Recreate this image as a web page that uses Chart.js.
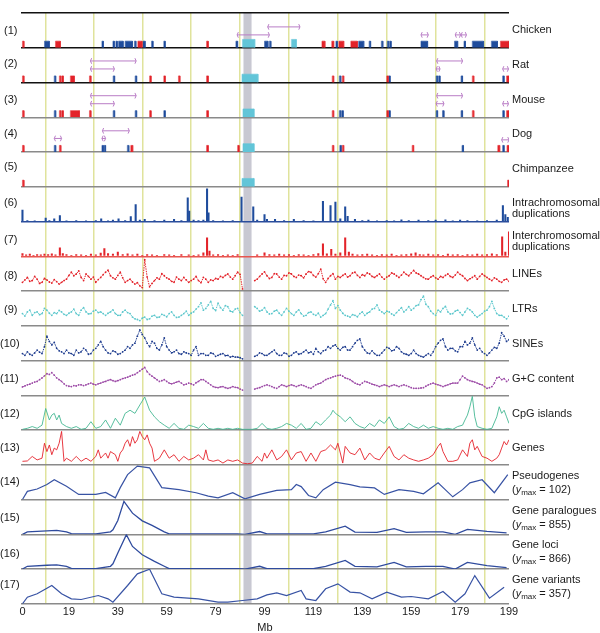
<!DOCTYPE html>
<html>
<head>
<meta charset="utf-8">
<script src="https://cdn.jsdelivr.net/npm/chart.js@4.4.1/dist/chart.umd.min.js"></script>
<style>
body { margin: 0; background: #fff; }
#wrap { position: relative; width: 600px; height: 633px; font-family: "Liberation Sans", Arial, sans-serif; font-size: 11px; color: #1a1a1a; }
#c { position: absolute; left: 0; top: 0; }
.n { position: absolute; left: 0; width: 17.5px; text-align: right; line-height: 13px; white-space: nowrap; }
.l { position: absolute; left: 512px; line-height: 13px; white-space: nowrap; }
.l sub { font-size: 8px; line-height: 0; vertical-align: -2px; }
</style>
</head>
<body>
<div id="wrap">
<canvas id="c" width="600" height="633"></canvas>
<div class="n" style="top:24px">(1)</div>
<div class="n" style="top:57px">(2)</div>
<div class="n" style="top:92.5px">(3)</div>
<div class="n" style="top:127px">(4)</div>
<div class="n" style="top:159.5px">(5)</div>
<div class="n" style="top:196px">(6)</div>
<div class="n" style="top:232.5px">(7)</div>
<div class="n" style="top:268.5px">(8)</div>
<div class="n" style="top:303px">(9)</div>
<div class="n" style="top:337px">(10)</div>
<div class="n" style="top:372px">(11)</div>
<div class="n" style="top:407px">(12)</div>
<div class="n" style="top:441px">(13)</div>
<div class="n" style="top:475px">(14)</div>
<div class="n" style="top:510.5px">(15)</div>
<div class="n" style="top:547px">(16)</div>
<div class="n" style="top:578px">(17)</div>

<div class="l" style="top:23px">Chicken</div>
<div class="l" style="top:58px">Rat</div>
<div class="l" style="top:92.5px">Mouse</div>
<div class="l" style="top:127px">Dog</div>
<div class="l" style="top:161.5px">Chimpanzee</div>
<div class="l" style="top:197px;line-height:10.5px">Intrachromosomal<br>duplications</div>
<div class="l" style="top:230px;line-height:11px">Interchromosomal<br>duplications</div>
<div class="l" style="top:267px">LINEs</div>
<div class="l" style="top:302px">LTRs</div>
<div class="l" style="top:336.5px">SINEs</div>
<div class="l" style="top:371.5px">G+C content</div>
<div class="l" style="top:406.5px">CpG islands</div>
<div class="l" style="top:441px">Genes</div>
<div class="l" style="top:467.5px;line-height:14px">Pseudogenes<br>(<i>y</i><sub>max</sub> = 102)</div>
<div class="l" style="top:503px;line-height:14px">Gene paralogues<br>(<i>y</i><sub>max</sub> = 855)</div>
<div class="l" style="top:538px;line-height:13.5px">Gene loci<br>(<i>y</i><sub>max</sub> = 866)</div>
<div class="l" style="top:573px;line-height:13.5px">Gene variants<br>(<i>y</i><sub>max</sub> = 357)</div>
</div>

<script>
// ---- data (Mb along the chromosome) ----
const xTicks = [0, 19, 39, 59, 79, 99, 119, 139, 159, 179, 199];
const centromere = [90.4, 93.7];

// conserved segments: [start Mb, end Mb, kind]  r = red, b = blue, c = cyan
const chickenMarks = [
  [0,0.6,'r'],[9,11,'b'],[13.5,15.5,'r'],[32.5,33.1,'b'],[37,37.6,'b'],[38.2,38.8,'b'],[39.3,41.2,'b'],
  [42,45,'b'],[45.8,46.4,'b'],[47.2,48.9,'r'],[49.3,50.2,'b'],[52.8,53.4,'b'],[57.8,58.4,'b'],[75.3,76,'r'],
  [87.3,88,'b'],[90,95,'c'],[99,100.4,'b'],[101,101.6,'b'],[110,112,'c'],[122.5,123.7,'r'],[126.5,127.3,'r'],
  [128.2,128.8,'b'],[129.4,131.4,'r'],[134.3,137,'r'],[137.5,139.6,'b'],[141.8,142.4,'b'],[146.8,147.4,'b'],
  [149.2,149.8,'b'],[150.2,150.8,'b'],[163,165.7,'b'],[176.7,178,'b'],[180.6,181.2,'b'],[184,188.6,'b'],
  [191.8,194.3,'b'],[195.5,199,'r']
];
const ratMarks = [
  [0,0.6,'r'],[13,13.6,'b'],[15.1,15.7,'r'],[16.1,16.7,'r'],[19.6,21.2,'r'],[27.4,28,'r'],[37.1,37.7,'b'],
  [46.1,46.7,'b'],[52,52.6,'r'],[57.8,58.4,'r'],[63.8,64.4,'r'],[75.3,76,'r'],[89.8,96.3,'c'],[126.7,127.3,'r'],
  [129.6,130.2,'b'],[130.8,131.4,'r'],[149,149.6,'r'],[149.8,150.4,'b'],[169.2,169.8,'b'],[170.2,170.8,'b'],
  [179.4,180,'b'],[184,184.6,'r'],[196.4,197,'b'],[198,199,'r']
];
const mouseMarks = [
  [0,0.6,'r'],[13,13.6,'b'],[15.1,15.7,'r'],[16.1,16.7,'r'],[19.6,23.3,'r'],[27.4,28,'r'],[37.1,37.7,'b'],
  [46.1,46.7,'b'],[52,52.6,'r'],[57.8,58.4,'b'],[75.3,76,'r'],[90.2,94.7,'c'],[126.7,127.3,'r'],[129.6,130.2,'b'],
  [130.6,131.2,'b'],[149,149.6,'r'],[149.8,150.4,'b'],[169.2,169.8,'b'],[171.8,172.4,'b'],[179.4,180,'b'],
  [184,184.6,'r'],[196.4,197,'b'],[198,199,'r']
];
const dogMarks = [
  [0,0.6,'r'],[13,13.6,'b'],[15.1,15.7,'r'],[32.5,33.1,'b'],[33.4,34,'b'],[42.9,43.5,'b'],[44.3,45.1,'r'],
  [75.3,76,'r'],[88,88.6,'r'],[90.2,94.7,'c'],[126.7,127.3,'r'],[129.8,130.4,'b'],[130.8,131.4,'r'],
  [159.4,160,'r'],[179.8,180.4,'b'],[194.4,195.2,'r'],[196.4,197,'b'],[198.2,199,'r']
];
const chimpMarks = [[0,0.6,'r'],[89.8,94.7,'c'],[198.4,199,'r']];

// rearrangement brackets: [start Mb, end Mb, level]
const chickenBrackets = [[87.8,101,0.37],[100.3,113.5,0.6],[163,166,0.37],[177,179.2,0.37],[179.4,181.6,0.37]];
const ratBrackets = [[27.8,46.5,0.62],[27.8,37.6,0.39],[169.4,180,0.62],[169.2,170.8,0.39],[196.4,198.8,0.39]];
const mouseBrackets = [[27.8,46.5,0.62],[27.8,37.6,0.39],[169.4,180,0.62],[169.2,172.4,0.39],[196.4,198.8,0.39]];
const dogBrackets = [[13,16,0.39],[32.7,43.7,0.61],[32.5,34,0.39],[196,199,0.35]];

// segmental duplications: [Mb, relative height]
const intraDup = [
  [0,0.33],[2,0.03],[5,0.02],[9.5,0.1],[11,0.03],[13,0.08],[15.3,0.17],[18,0.02],[22,0.03],[26,0.02],[30,0.03],
  [32.2,0.08],[35,0.02],[37,0.04],[39.3,0.08],[42,0.03],[44.3,0.14],[46.3,0.49],[48,0.04],[50,0.06],[54,0.03],
  [58,0.04],[62,0.06],[65,0.03],[67.6,0.68],[68.2,0.3],[70,0.04],[72,0.03],[74,0.04],[75.5,0.94],[76.1,0.25],
  [78,0.03],[82,0.02],[86,0.03],[89.6,0.7],[94.4,0.42],[96,0.04],[99,0.2],[100,0.06],[103.3,0.06],[107,0.03],
  [111,0.06],[115,0.03],[119,0.02],[122.9,0.58],[126,0.46],[128,0.56],[130,0.08],[132,0.42],[133,0.15],
  [136,0.06],[139,0.03],[141.5,0.04],[145,0.02],[149,0.03],[152,0.02],[155,0.05],[158,0.03],[162,0.04],
  [166,0.03],[169,0.04],[173,0.05],[176,0.02],[179,0.04],[182,0.03],[186,0.02],[190,0.03],[194,0.04],
  [196.5,0.46],[197.5,0.2],[198.5,0.12]
];
const interDup = [
  [0,0.08],[1.5,0.04],[3,0.06],[4.5,0.03],[6,0.05],[7.5,0.04],[9,0.06],[10.5,0.05],[12,0.07],[13.5,0.04],
  [15.3,0.24],[16.5,0.08],[18,0.05],[20,0.03],[22,0.05],[24,0.04],[26,0.03],[28,0.06],[30,0.04],[32,0.09],
  [33.5,0.22],[35,0.08],[37,0.06],[39,0.12],[41,0.05],[43,0.07],[45,0.04],[47,0.06],[49,0.03],[51,0.05],
  [53,0.04],[55,0.03],[58,0.05],[60,0.04],[62,0.03],[65,0.05],[68,0.04],[70,0.03],[72,0.04],[74,0.1],
  [75.5,0.53],[76.5,0.15],[78,0.04],[80,0.05],[82,0.03],[84,0.04],[86,0.03],[88,0.05],[96,0.04],[99,0.1],
  [101,0.05],[103,0.04],[105,0.06],[107,0.04],[109,0.05],[111,0.03],[113,0.05],[115,0.04],[117,0.03],
  [119,0.05],[121,0.08],[122.9,0.36],[124.5,0.07],[126.3,0.2],[128,0.06],[130,0.1],[132,0.53],[133.5,0.12],
  [135,0.06],[137,0.04],[139,0.05],[141,0.06],[143,0.04],[145,0.03],[147,0.05],[149,0.04],[151,0.06],
  [153,0.03],[155,0.04],[157,0.05],[159,0.07],[160.8,0.1],[162.5,0.05],[164,0.04],[166,0.06],[168,0.04],
  [170,0.05],[172,0.03],[174,0.06],[176,0.04],[178,0.05],[180,0.03],[182,0.05],[184,0.04],[186,0.06],
  [188,0.04],[190,0.05],[192,0.07],[194,0.05],[196.2,0.56],[197.5,0.12],[199,0.7]
];

// repeat densities in 1 Mb windows (relative)
const binMb = [
  0,1,2,3,4,5,6,7,8,9,10,11,12,13,14,15,16,17,18,19,
  20,21,22,23,24,25,26,27,28,29,30,31,32,33,34,35,36,37,38,39,
  40,41,42,43,44,45,46,47,48,49,50,51,52,53,54,55,56,57,58,59,
  60,61,62,63,64,65,66,67,68,69,70,71,72,73,74,75,76,77,78,79,
  80,81,82,83,84,85,86,87,88,89,90,91,92,93,94,95,96,97,98,99,
  100,101,102,103,104,105,106,107,108,109,110,111,112,113,114,115,116,117,118,119,
  120,121,122,123,124,125,126,127,128,129,130,131,132,133,134,135,136,137,138,139,
  140,141,142,143,144,145,146,147,148,149,150,151,152,153,154,155,156,157,158,159,
  160,161,162,163,164,165,166,167,168,169,170,171,172,173,174,175,176,177,178,179,
  180,181,182,183,184,185,186,187,188,189,190,191,192,193,194,195,196,197,198,199
];
const lines = [
  0.25,0.32,0.39,0.28,0.30,0.42,0.34,0.22,0.25,0.36,0.32,0.26,0.23,0.33,0.27,0.20,0.25,0.30,0.34,0.45,
  0.54,0.44,0.49,0.58,0.39,0.30,0.49,0.42,0.34,0.40,0.25,0.33,0.39,0.47,0.54,0.60,0.44,0.38,0.34,0.45,
  0.54,0.38,0.25,0.30,0.34,0.26,0.20,0.24,0.15,0.10,0.90,0.40,0.12,0.22,0.30,0.38,0.34,0.50,0.44,0.38,
  0.34,0.28,0.25,0.40,0.34,0.30,0.39,0.32,0.25,0.30,0.34,0.42,0.30,0.24,0.39,0.34,0.25,0.32,0.30,0.36,
  0.34,0.42,0.39,0.45,0.49,0.40,0.34,0.44,0.54,0.48,0.06,null,null,null,null,0.30,0.34,0.42,0.49,0.55,
  0.44,0.36,0.39,0.50,0.49,0.40,0.34,0.45,0.44,0.52,0.49,0.42,0.39,0.46,0.44,0.38,0.49,0.56,0.54,0.45,
  0.40,0.50,0.63,0.35,0.25,0.36,0.44,0.50,0.34,0.42,0.39,0.45,0.49,0.40,0.44,0.52,0.54,0.45,0.39,0.47,
  0.44,0.52,0.49,0.42,0.39,0.44,0.49,0.40,0.34,0.40,0.44,0.52,0.49,0.44,0.39,0.46,0.54,0.48,0.44,0.52,
  0.59,0.52,0.49,0.44,0.39,0.35,0.34,0.40,0.44,0.38,0.34,0.42,0.39,0.45,0.49,0.42,0.39,0.46,0.54,0.48,
  0.44,0.36,0.30,0.35,0.39,0.44,0.34,0.42,0.49,0.44,0.39,0.34,0.30,0.38,0.34,0.28,0.25,0.32,0.34,0.28
];
const ltrs = [
  0.35,0.28,0.40,0.45,0.30,0.38,0.40,0.32,0.35,0.50,0.45,0.36,0.30,0.38,0.35,0.44,0.40,0.33,0.30,0.36,
  0.40,0.48,0.35,0.30,0.45,0.52,0.40,0.34,0.35,0.42,0.45,0.38,0.40,0.35,0.30,0.36,0.40,0.46,0.35,0.30,
  0.30,0.40,0.45,0.38,0.35,0.25,0.20,0.18,0.15,0.22,0.25,0.18,0.20,0.28,0.30,0.24,0.25,0.33,0.30,0.26,
  0.35,0.40,0.30,0.24,0.25,0.30,0.35,0.42,0.30,0.36,0.40,0.48,0.55,0.66,0.45,0.50,0.60,0.70,0.50,0.44,
  0.65,0.52,0.45,0.58,0.55,0.42,0.40,0.48,0.50,0.38,0.30,null,null,null,null,0.55,0.50,0.42,0.45,0.52,
  0.40,0.34,0.35,0.42,0.45,0.36,0.30,0.40,0.50,0.42,0.35,0.30,0.40,0.46,0.35,0.28,0.30,0.38,0.40,0.33,
  0.30,0.36,0.25,0.30,0.35,0.48,0.60,0.72,0.50,0.58,0.45,0.36,0.30,0.28,0.25,0.32,0.30,0.26,0.35,0.40,
  0.30,0.36,0.40,0.48,0.50,0.60,0.45,0.40,0.35,0.42,0.40,0.34,0.30,0.38,0.45,0.52,0.40,0.46,0.55,0.45,
  0.50,0.58,0.60,0.75,0.85,0.62,0.55,0.42,0.35,0.30,0.45,0.40,0.50,0.56,0.40,0.34,0.35,0.42,0.45,0.38,
  0.30,0.40,0.50,0.46,0.40,0.30,0.25,0.30,0.35,0.42,0.45,0.55,0.70,0.50,0.35,0.30,0.30,0.25,0.20,0.28
];
const sines = [
  0.20,0.15,0.25,0.18,0.15,0.22,0.30,0.24,0.20,0.40,0.70,0.55,0.45,0.52,0.35,0.28,0.25,0.20,0.30,0.22,
  0.20,0.15,0.30,0.22,0.25,0.35,0.30,0.18,0.20,0.30,0.35,0.45,0.55,0.40,0.30,0.22,0.20,0.28,0.25,0.18,
  0.20,0.25,0.30,0.40,0.35,0.45,0.50,0.70,0.88,0.75,0.65,0.50,0.40,0.55,0.50,0.35,0.30,0.45,0.65,0.40,
  0.30,0.22,0.25,0.30,0.20,0.18,0.25,0.22,0.20,0.15,0.30,0.40,0.15,0.20,0.20,0.15,0.15,0.22,0.20,0.12,
  0.15,0.18,0.20,0.14,0.15,0.10,0.12,0.10,0.10,0.08,0.05,null,null,null,null,0.12,0.15,0.22,0.20,0.15,
  0.15,0.20,0.25,0.30,0.20,0.15,0.15,0.22,0.20,0.12,0.15,0.22,0.25,0.18,0.20,0.25,0.30,0.22,0.25,0.18,
  0.35,0.25,0.20,0.28,0.30,0.40,0.35,0.42,0.45,0.35,0.30,0.38,0.40,0.30,0.30,0.40,0.50,0.58,0.62,0.40,
  0.30,0.22,0.20,0.28,0.20,0.15,0.15,0.22,0.30,0.38,0.35,0.28,0.30,0.40,0.35,0.25,0.20,0.18,0.15,0.20,
  0.30,0.20,0.15,0.12,0.10,0.15,0.20,0.15,0.25,0.40,0.50,0.58,0.62,0.40,0.30,0.35,0.35,0.28,0.25,0.40,
  0.40,0.55,0.45,0.50,0.65,0.45,0.30,0.35,0.25,0.20,0.15,0.22,0.30,0.38,0.35,0.50,0.80,0.70,0.55,0.60
];
const gcContent = [
  0.24,0.27,0.30,0.32,0.35,0.38,0.40,0.45,0.50,0.56,0.62,0.60,0.65,0.58,0.50,0.45,0.40,0.33,0.28,0.26,
  0.25,0.28,0.27,0.30,0.30,0.28,0.30,0.33,0.35,0.32,0.30,0.33,0.35,0.38,0.40,0.43,0.45,0.42,0.40,0.42,
  0.45,0.48,0.50,0.52,0.55,0.58,0.60,0.65,0.70,0.75,0.80,0.68,0.60,0.55,0.50,0.45,0.40,0.42,0.45,0.40,
  0.35,0.33,0.35,0.38,0.40,0.35,0.30,0.32,0.35,0.33,0.30,0.36,0.40,0.45,0.45,0.40,0.35,0.30,0.25,0.23,
  0.22,0.24,0.25,0.22,0.20,0.22,0.25,0.23,0.22,0.18,0.15,null,null,null,null,0.18,0.20,0.22,0.25,0.28,
  0.30,0.28,0.25,0.22,0.20,0.25,0.30,0.28,0.25,0.28,0.30,0.28,0.25,0.28,0.30,0.28,0.25,0.22,0.20,0.25,
  0.30,0.33,0.35,0.40,0.45,0.48,0.50,0.53,0.55,0.57,0.58,0.55,0.50,0.48,0.45,0.40,0.35,0.32,0.30,0.35,
  0.40,0.38,0.35,0.32,0.30,0.28,0.25,0.28,0.30,0.28,0.25,0.28,0.30,0.28,0.25,0.28,0.30,0.28,0.25,0.22,
  0.20,0.20,0.20,0.21,0.22,0.26,0.30,0.33,0.35,0.32,0.30,0.28,0.25,0.28,0.30,0.33,0.35,0.35,0.35,0.45,
  0.55,0.50,0.45,0.42,0.40,0.38,0.35,0.32,0.30,0.25,0.20,0.22,0.25,0.35,0.50,0.52,0.45,0.48,0.40,0.45
];

// CpG islands and genes: [Mb, relative density]
const cpg = [
  [0,0.02],[2,0.05],[4,0.1],[6,0.05],[8,0.14],[9.5,0.62],[11,0.29],[12,0.43],[13,0.48],[14,0.29],[15,0.43],
  [16,0.19],[18,0.1],[20,0.05],[22,0.1],[24,0.02],[26,0.05],[28,0.24],[30,0.05],[32,0.1],[34,0.29],[36,0.05],
  [38,0.34],[40,0.14],[42,0.48],[44,0.57],[46,0.48],[48,0.72],[50,0.95],[52,0.57],[54,0.38],[56,0.24],
  [58,0.14],[60,0.05],[62,0.19],[64,0.05],[66,0.02],[68,0.14],[70,0.1],[72,0.05],[74,0.19],[76,0.05],
  [78,0.02],[80,0.05],[82,0.02],[84,0.05],[86,0.02],[88,0.05],[90,0.02],[92,0.02],[94,0.02],[96,0.05],
  [98,0.19],[100,0.05],[102,0.02],[104,0.05],[106,0.1],[108,0.19],[110,0.14],[112,0.05],[114,0.19],
  [116,0.02],[118,0.05],[120,0.24],[122,0.14],[124,0.29],[126,0.43],[127,0.57],[128,0.48],[130,0.38],
  [132,0.24],[134,0.38],[136,0.19],[138,0.1],[140,0.05],[142,0.19],[144,0.1],[146,0.29],[148,0.19],
  [150,0.38],[152,0.1],[154,0.02],[156,0.05],[158,0.19],[160,0.1],[162,0.05],[164,0.14],[166,0.05],
  [168,0.1],[170,0.05],[172,0.02],[174,0.05],[176,0.02],[178,0.1],[180,0.14],[181,0.29],[182,0.43],
  [183,0.67],[184,0.97],[185,0.38],[186,0.1],[188,0.05],[190,0.02],[192,0.05],[194,0.38],[195,0.67],
  [196,0.48],[197,0.57],[198,0.38],[199,0.19]
];
const genes = [
  [0,0.1],[2,0.11],[4,0.24],[6,0.14],[8,0.19],[9,0.62],[10,0.38],[11,0.57],[12,0.29],[13,0.48],[14,0.43],
  [15,0.62],[16,0.96],[17,0.1],[18,0.19],[20,0.1],[22,0.24],[24,0.1],[26,0.19],[28,0.1],[30,0.24],[31,0.43],
  [32,0.19],[34,0.34],[35,0.19],[36,0.38],[38,0.29],[39,0.1],[40,0.34],[41,0.43],[42,0.62],[43,0.72],
  [44,0.53],[45,0.81],[46,0.62],[47,0.72],[48,0.96],[49,0.81],[50,0.72],[51,0.86],[52,0.62],[53,0.48],
  [54,0.1],[56,0.19],[58,0.43],[60,0.19],[62,0.29],[64,0.1],[66,0.24],[68,0.14],[70,0.19],[72,0.29],
  [74,0.14],[75,0.43],[76,0.14],[78,0.1],[80,0.14],[82,0.05],[84,0.14],[86,0.1],[88,0.14],[90,0.05],
  [92,0.03],[94,0.05],[96,0.24],[98,0.1],[99,0.34],[100,0.19],[102,0.43],[104,0.14],[106,0.24],[108,0.43],
  [110,0.14],[112,0.34],[114,0.38],[116,0.1],[118,0.34],[120,0.1],[122,0.38],[124,0.43],[126,0.57],
  [128,0.43],[129,0.62],[130,0.34],[131,0.05],[132,0.53],[134,0.34],[136,0.29],[138,0.48],[140,0.14],
  [142,0.34],[144,0.19],[146,0.14],[148,0.34],[150,0.53],[152,0.24],[154,0.14],[156,0.29],[158,0.19],
  [160,0.14],[162,0.1],[164,0.14],[166,0.19],[168,0.29],[170,0.53],[171,0.62],[172,0.38],[174,0.1],
  [176,0.1],[178,0.14],[180,0.43],[182,0.24],[183,0.62],[184,0.72],[185,0.43],[186,0.53],[188,0.24],
  [190,0.19],[192,0.1],[194,0.19],[195,0.29],[196,0.48],[197,0.67],[198,0.57],[199,0.72]
];

// gene-based counts: [Mb, count]
const pseudogenes = [
  [0,0],[2,24],[6,31],[10,44],[13,58],[18,39],[23,15],[30,15],[34,21],[38,5],[40,35],[43,73],[47,98],
  [52,93],[57,35],[64,29],[71,20],[76,10],[80,5],[86,20],[91,2],[97,15],[104,27],[110,29],[112,44],
  [114,38],[117,12],[120,5],[123,29],[128,51],[134,44],[138,37],[144,34],[148,15],[154,29],[160,24],
  [164,17],[170,49],[176,8],[180,29],[183,49],[188,58],[193,20],[198.5,73]
];
const paralogues = [
  [0,0],[2,60],[10,85],[14,95],[18,60],[20,15],[30,9],[36,60],[37,110],[39,340],[41.5,810],[45,520],
  [49,330],[53,220],[58,60],[60,9],[70,9],[80,9],[88,9],[91,0],[97,68],[100,9],[110,9],[119,9],[124,60],
  [132,200],[136,55],[145,45],[152,140],[157,45],[165,60],[172,60],[177,0],[182,120],[190,70],[198,35]
];
const geneLoci = [
  [0,0],[2,69],[10,95],[14,104],[18,69],[20,17],[30,9],[36,69],[37,130],[39,398],[42.5,857],[45,563],
  [49,355],[54,191],[58,69],[60,9],[70,9],[80,9],[88,9],[91,0],[97,69],[100,9],[110,9],[119,9],[124,69],
  [132,217],[136,69],[145,52],[152,165],[157,52],[165,69],[172,69],[177,0],[182,165],[190,87],[198,35]
];
const geneVariants = [
  [0,0],[2,68],[6,103],[12,188],[16,103],[20,51],[24,44],[31,85],[35,51],[37,17],[43,188],[47,308],[52,355],
  [57,103],[62,68],[72,51],[80,17],[84,17],[90,34],[96,51],[100,92],[104,113],[108,85],[114,137],[116,51],
  [120,34],[124,154],[129,205],[134,120],[138,113],[143,51],[149,120],[155,68],[159,75],[166,51],[172,127],
  [177,17],[181,103],[185,290],[191,58],[197,171]
];

// ---- styling ----
const RED = '#e3232a', BLUE = '#1f4c9c', CYAN = '#62c5d8', LILAC = '#b97dc6';
const markColors = { r: RED, b: BLUE, c: CYAN };
const panelMax = [1,1,1,1,1,1,1,1,1,1,1,1,1,102,855,866,357];
const baseColors = ['#111','#111','#8a8a8a','#8a8a8a','#8a8a8a','#2a4d9c','#e8554f',
  '#8a8a8a','#8a8a8a','#8a8a8a','#8a8a8a','#8a8a8a','#8a8a8a','#8a8a8a','#8a8a8a','#8a8a8a','#8a8a8a'];

function blockSeries(blocks, kind) {
  const top = kind === 'c' ? 0.24 : 0.19;
  const pts = [];
  blocks.filter(b => b[2] === kind).forEach(b => {
    pts.push({x: b[0], y: 0}, {x: b[0], y: top}, {x: b[1], y: top}, {x: b[1], y: 0}, {x: b[1], y: null});
  });
  return pts;
}
function bracketSeries(list) {
  const pts = [];
  list.forEach(([a, b, lv]) => {
    pts.push({x: a + 0.5, y: lv + 0.08}, {x: a, y: lv}, {x: a + 0.5, y: lv - 0.08}, {x: a, y: null},
             {x: a, y: lv}, {x: b, y: lv}, {x: b, y: null},
             {x: b - 0.5, y: lv + 0.08}, {x: b, y: lv}, {x: b - 0.5, y: lv - 0.08}, {x: b, y: null});
  });
  return pts;
}
const pairs = arr => arr.map(d => ({x: d[0], y: d[1]}));
const binned = vals => binMb.map((m, i) => ({x: m, y: vals[i]}));

const datasets = [];
[chickenMarks, ratMarks, mouseMarks, dogMarks, chimpMarks].forEach((marks, i) => {
  ['c', 'r', 'b'].forEach(k => {
    datasets.push({
      type: 'line', yAxisID: 'p' + (i + 1), data: blockSeries(marks, k),
      borderColor: markColors[k], backgroundColor: markColors[k], borderWidth: 0.6,
      fill: 'origin', pointRadius: 0, tension: 0
    });
  });
});
[chickenBrackets, ratBrackets, mouseBrackets, dogBrackets].forEach((br, i) => {
  datasets.push({
    type: 'line', yAxisID: 'p' + (i + 1), data: bracketSeries(br),
    borderColor: LILAC, borderWidth: 1, pointRadius: 0, fill: false, tension: 0
  });
});
datasets.push({type: 'bar', yAxisID: 'p6', data: pairs(intraDup), backgroundColor: BLUE,
  barThickness: 1.4, grouped: false, borderWidth: 0});
datasets.push({type: 'bar', yAxisID: 'p7', data: pairs(interDup), backgroundColor: RED,
  barThickness: 1.4, grouped: false, borderWidth: 0});

function dotted(id, vals, color) {
  return {type: 'line', yAxisID: id, data: binned(vals), borderColor: color, backgroundColor: color,
    borderWidth: 1, borderDash: [1.5, 1], pointRadius: 0.9, pointBorderWidth: 0, tension: 0, fill: false};
}
datasets.push(dotted('p8', lines, '#e3232a'));
datasets.push(dotted('p9', ltrs, '#5cc7cc'));
datasets.push(dotted('p10', sines, '#1f3d8f'));
datasets.push(dotted('p11', gcContent, '#9c4aa6'));

function solid(id, arr, color, w) {
  return {type: 'line', yAxisID: id, data: pairs(arr), borderColor: color, borderWidth: w,
    pointRadius: 0, tension: 0, fill: false};
}
datasets.push(solid('p12', cpg, '#45b893', 0.9));
datasets.push(solid('p13', genes, '#e5232b', 0.9));
datasets.push(solid('p14', pseudogenes, '#3853a4', 1.2));
datasets.push(solid('p15', paralogues, '#2f4b9e', 1.3));
datasets.push(solid('p16', geneLoci, '#2f4b9e', 1.3));
datasets.push(solid('p17', geneVariants, '#3853a4', 1.2));

const FONT = '"Liberation Sans", Arial, sans-serif';
const scales = {
  x: {
    type: 'linear', position: 'bottom', min: -0.6, max: 199, offset: false,
    afterBuildTicks: s => { s.ticks = xTicks.map(v => ({value: v})); },
    ticks: {color: '#1a1a1a', font: {family: FONT, size: 11}, padding: 2, autoSkip: false, maxRotation: 0},
    grid: {color: '#e0e39c', lineWidth: 1.5, drawTicks: false},
    border: {display: false},
    title: {display: true, text: 'Mb', color: '#1a1a1a', font: {family: FONT, size: 11, lineHeight: 1},
      padding: {top: 1, bottom: 0}}
  }
};
// stacked track axes: the first one defined lands at the bottom, so add them bottom-up
for (let i = panelMax.length - 1; i >= 0; i--) {
  const mx = panelMax[i];
  scales['p' + (i + 1)] = {
    type: 'linear', position: 'left', stack: 'tracks', stackWeight: 1, min: 0, max: mx,
    afterBuildTicks: s => { s.ticks = [{value: 0}, {value: mx}]; },
    ticks: {display: false},
    grid: {drawTicks: false, lineWidth: 1.5,
      color: c => c.tick.value === 0 ? baseColors[i] : (i === 0 ? '#111' : 'rgba(0,0,0,0)')},
    border: {display: false}
  };
}

const centromereBand = {
  id: 'centromereBand',
  beforeDraw(chart) {
    const {ctx, chartArea, scales} = chart;
    const x0 = scales.x.getPixelForValue(centromere[0]);
    const x1 = scales.x.getPixelForValue(centromere[1]);
    ctx.save();
    ctx.fillStyle = '#c8c8d2';
    ctx.fillRect(x0, chartArea.top, x1 - x0, chartArea.bottom - chartArea.top);
    ctx.restore();
  }
};

new Chart(document.getElementById('c'), {
  type: 'line',
  data: {datasets: datasets},
  options: {
    responsive: false,
    devicePixelRatio: 1,
    animation: false,
    normalized: true,
    layout: {padding: {left: 21, right: 91, top: 13, bottom: 0}},
    scales: scales,
    plugins: {legend: {display: false}, tooltip: {enabled: false}}
  },
  plugins: [centromereBand]
});
</script>
</body>
</html>
